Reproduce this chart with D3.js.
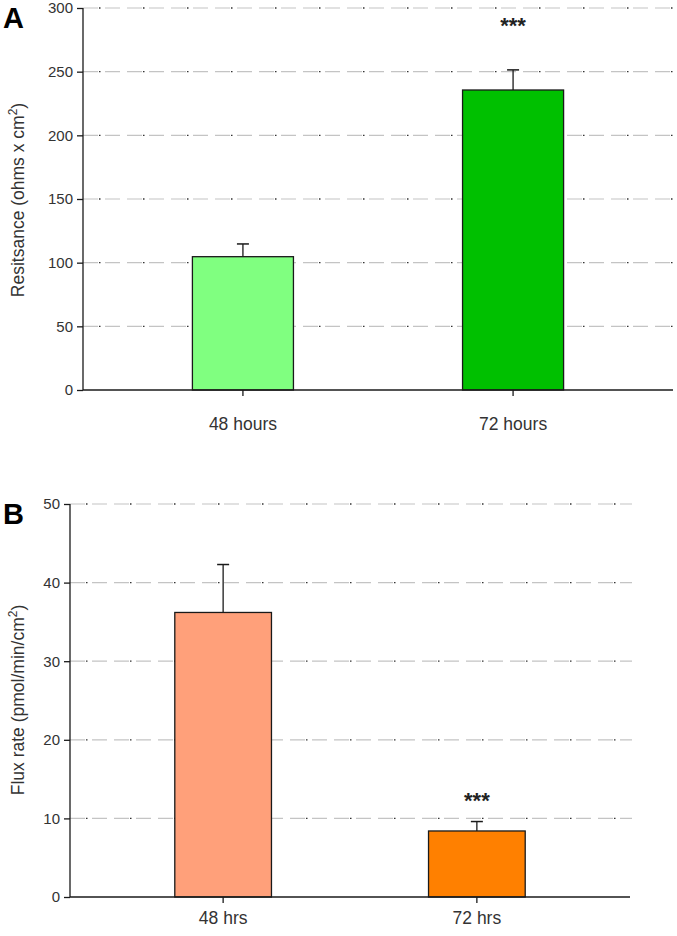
<!DOCTYPE html>
<html><head><meta charset="utf-8">
<script src="https://cdn.jsdelivr.net/npm/d3@7"></script>
<style>body{margin:0;background:#fff}svg{display:block;font-family:Arial,"Liberation Sans",sans-serif}</style>
</head><body><svg id="c" width="677" height="936"></svg>
<script>
const categoriesA = ["48 hours", "72 hours"];
const valuesA = [104.7, 235.6];
const errorsA = [10.0, 15.8];
const colorsA = ["#80FF80", "#00C000"];
const ticksA = [0, 50, 100, 150, 200, 250, 300];
const sigA = ["", "***"];

const categoriesB = ["48 hrs", "72 hrs"];
const valuesB = [36.2, 8.4];
const errorsB = [6.1, 1.2];
const colorsB = ["#FFA07A", "#FF8000"];
const ticksB = [0, 10, 20, 30, 40, 50];
const sigB = ["", "***"];

const svg = d3.select("#c");
const FONT = "Arial,'Liberation Sans',sans-serif";

function panel(o) {
  const g = svg.append("g");
  const x = d3.scaleBand().domain(o.cats).range([o.x0, o.x1]).paddingInner(o.pi).paddingOuter(o.po);
  const y = d3.scaleLinear().domain([0, o.max]).range([o.y0, o.y1]);
  // grid
  const gridVals = o.ticks.filter(t => t > 0);
  g.selectAll(".gd").data(gridVals).join("line")
    .attr("x1", o.x0).attr("x2", o.gx1).attr("y1", d => y(d)).attr("y2", d => y(d))
    .attr("stroke", "#c4c4c4").attr("stroke-width", 1.2).attr("stroke-dasharray", "15,7");
  g.selectAll(".gp").data(gridVals).join("line")
    .attr("x1", o.x0 + 16).attr("x2", o.gx1).attr("y1", d => y(d)).attr("y2", d => y(d))
    .attr("stroke", "#333").attr("stroke-width", 1.3).attr("stroke-dasharray", "1.5,42.5");
  // bars
  g.selectAll(".bar").data(o.vals).join("rect")
    .attr("x", (d, i) => x(o.cats[i])).attr("width", x.bandwidth())
    .attr("y", d => y(d)).attr("height", d => y(0) - y(d))
    .attr("fill", (d, i) => o.colors[i]).attr("stroke", "#1a1a1a").attr("stroke-width", 1.3);
  // error bars
  o.vals.forEach((v, i) => {
    const cx = x(o.cats[i]) + x.bandwidth() / 2;
    g.append("line").attr("x1", cx).attr("x2", cx).attr("y1", y(v)).attr("y2", y(v + o.errs[i]))
      .attr("stroke", "#1a1a1a").attr("stroke-width", 1.3);
    g.append("line").attr("x1", cx - 6).attr("x2", cx + 6).attr("y1", y(v + o.errs[i])).attr("y2", y(v + o.errs[i]))
      .attr("stroke", "#1a1a1a").attr("stroke-width", 1.5);
    if (o.sig[i]) {
      g.append("text").attr("x", cx).attr("y", o.sigY).attr("text-anchor", "middle")
        .attr("font-size", 22).attr("font-weight", "bold").attr("fill", "#222").text(o.sig[i]);
    }
  });
  // y axis
  const ya = g.append("g").attr("transform", `translate(${o.x0},0)`)
    .call(d3.axisLeft(y).tickValues(o.ticks).tickSize(6).tickPadding(4));
  ya.select(".domain").attr("stroke", "#1a1a1a").attr("stroke-width", 1.3).attr("d", `M0,${o.y0}V${o.y1}`);
  ya.selectAll(".tick line").attr("stroke", "#1a1a1a").attr("stroke-width", 1.3);
  ya.selectAll(".tick text").attr("font-size", 15).attr("fill", "#333").attr("font-family", FONT);
  // x axis
  const xa = g.append("g").attr("transform", `translate(0,${o.y0})`)
    .call(d3.axisBottom(x).tickSize(6).tickPadding(o.xpad));
  xa.select(".domain").attr("stroke", "#1a1a1a").attr("stroke-width", 1.3).attr("d", `M${o.x0},0H${o.x1}`);
  xa.selectAll(".tick line").attr("stroke", "#1a1a1a").attr("stroke-width", 1.3);
  xa.selectAll(".tick text").attr("font-size", 17.5).attr("fill", "#333").attr("font-family", FONT);
  // y label
  const t = g.append("text").attr("transform", `translate(${o.lx},${o.ly}) rotate(-90)`)
    .attr("text-anchor", "middle").attr("font-size", 17.5).attr("fill", "#333");
  t.append("tspan").text(o.label);
  t.append("tspan").attr("font-size", 12).attr("dy", -7).text("2");
  t.append("tspan").attr("dy", 7).text(")");
  // panel letter
  g.append("text").attr("x", 3).attr("y", o.letterY).attr("font-size", 29).attr("font-weight", "bold")
    .attr("fill", "#000").text(o.letter);
}

panel({cats: categoriesA, vals: valuesA, errs: errorsA, colors: colorsA, ticks: ticksA, sig: sigA,
  max: 300, x0: 83, x1: 673, gx1: 677, y0: 390, y1: 8, pi: 0.626, po: 0.405, sigY: 33, xpad: 22,
  lx: 24, ly: 200, label: "Resitsance (ohms x cm", letter: "A", letterY: 28});
panel({cats: categoriesB, vals: valuesB, errs: errorsB, colors: colorsB, ticks: ticksB, sig: sigB,
  max: 50, x0: 70, x1: 630, gx1: 632, y0: 897, y1: 504, pi: 0.619, po: 0.413, sigY: 808, xpad: 9,
  lx: 24, ly: 700, label: "Flux rate (pmol/min/cm", letter: "B", letterY: 524});
</script></body></html>
